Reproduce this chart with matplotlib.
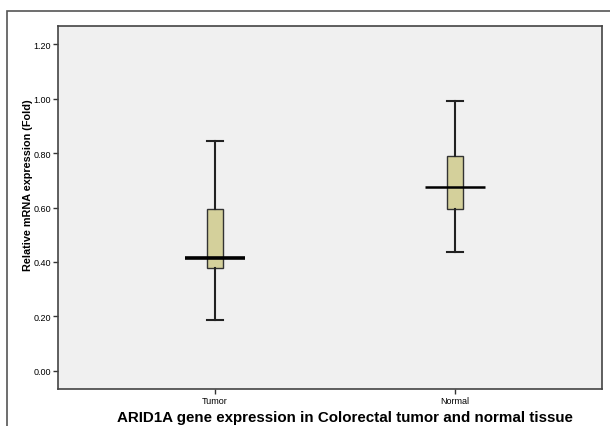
import matplotlib.pyplot as plt
from matplotlib.patches import Rectangle

plt.rcParams['font.family'] = ['Liberation Sans', 'DejaVu Sans']

groups = ['Tumor', 'Normal']
lower_whisker = [0.185, 0.436]
q1 = [0.378, 0.594]
median = [0.413, 0.674]
q3 = [0.594, 0.790]
upper_whisker = [0.846, 0.993]
median_widths = [2.6, 1.8]

yticks = [0.0, 0.2, 0.4, 0.6, 0.8, 1.0, 1.2]

fig = plt.figure(figsize=(6.1, 4.27), dpi=100)
fig.patch.set_facecolor('white')

# outer frame like the SPSS export
fig.patches.append(Rectangle((7 / 610, -0.1), 1.2, (427 - 12) / 427 + 0.1,
                             transform=fig.transFigure, fill=False,
                             edgecolor='#555555', linewidth=1.2))

ax = fig.add_axes([58 / 610, (427 - 390) / 427, 544 / 610, 363 / 427])
ax.set_facecolor('#F0F0F0')

pos = [1, 2]
stats = []
for i, g in enumerate(groups):
    stats.append(dict(label=g, whislo=lower_whisker[i], q1=q1[i], med=median[i],
                      q3=q3[i], whishi=upper_whisker[i], fliers=[]))

ax.bxp(stats, positions=pos, widths=0.065, patch_artist=True,
       showfliers=False,
       boxprops=dict(facecolor='#D4D09B', edgecolor='#333333', linewidth=1.0),
       whiskerprops=dict(color='#222222', linewidth=1.5),
       capprops=dict(color='#222222', linewidth=1.5),
       capwidths=0.065,
       medianprops=dict(linewidth=0))

for p, m, lw in zip(pos, median, median_widths):
    ax.hlines(m, p - 0.125, p + 0.125, color='black', linewidth=lw, zorder=5)

ax.set_xlim(0.346, 2.6125)
ax.set_ylim(-0.067, 1.267)
ax.set_xticks(pos)
ax.set_xticklabels(groups, fontsize=6.5)
ax.set_yticks(yticks)
ax.set_yticklabels(['%.2f' % v for v in yticks], fontsize=6.5)
ax.tick_params(axis='both', length=3.6, width=1, color='#333333', pad=1.5)

for s in ax.spines.values():
    s.set_color('#444444')
    s.set_linewidth(1.2)

fig.text(28 / 610, 1 - 185 / 427, 'Relative mRNA expression (Fold)',
         rotation=90, ha='center', va='center', fontsize=7.8, fontweight='bold')
fig.text(345 / 610, 1 - 418 / 427,
         'ARID1A gene expression in Colorectal tumor and normal tissue',
         ha='center', va='center', fontsize=10.9, fontweight='bold')

fig.savefig('out.png', dpi=100)
